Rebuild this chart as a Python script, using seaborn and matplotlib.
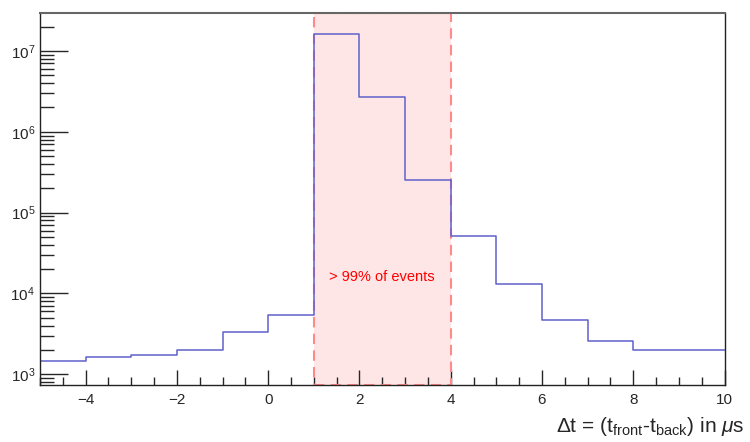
import numpy as np
import pandas as pd
import matplotlib
matplotlib.use("Agg")
import matplotlib.pyplot as plt
import seaborn as sns
from matplotlib.ticker import LogLocator, MultipleLocator, NullFormatter

# Data
bin_edges = [-5, -4, -3, -2, -1, 0, 1, 2, 3, 4, 5, 6, 7, 8, 9, 10]
bin_centers = [-4.5, -3.5, -2.5, -1.5, -0.5, 0.5, 1.5, 2.5, 3.5, 4.5, 5.5, 6.5, 7.5, 8.5, 9.5]
counts = [1480, 1650, 1720, 1980, 3300, 5400, 1.6e7, 2.7e6, 2.5e5, 5.1e4, 1.3e4, 4650, 2550, 2000, 2000]
region = [1, 4]
region_label = "> 99% of events"
x_label = r"$\Delta$t = (t$_{\rm front}$-t$_{\rm back}$) in $\mu$s"

sns.set_style("white")
plt.rcParams['font.family'] = ['Liberation Sans', 'DejaVu Sans']
plt.rcParams['mathtext.fontset'] = 'custom'
plt.rcParams['mathtext.rm'] = 'Liberation Sans'
plt.rcParams['mathtext.it'] = 'Liberation Sans:italic'

df = pd.DataFrame({"dt": bin_centers, "n": counts})

fig = plt.figure(figsize=(7.5, 4.42), dpi=100)
ax = fig.add_axes([0.0533, 0.129, 0.9127, 0.8416])

ax.axvspan(region[0], region[1], facecolor='#ffe6e6', edgecolor='none', zorder=0)
ax.axvspan(region[0], region[1], facecolor='none', edgecolor='#ff8a8a',
           linestyle=(0, (5, 3)), linewidth=1.5, zorder=1)

sns.histplot(data=df, x="dt", weights="n", bins=bin_edges, element="step",
             fill=False, color='#6060cc', linewidth=1.1, ax=ax, zorder=2)

ax.set_yscale('log')
ax.set_xlim(-5, 10)
ax.set_ylim(738, 2.95e7)

ax.text(2.5, 1.6e4, region_label, color='red', fontsize=10.5, ha='center', va='center')

ax.xaxis.set_major_locator(MultipleLocator(2))
ax.xaxis.set_minor_locator(MultipleLocator(0.5))
ax.yaxis.set_major_locator(LogLocator(base=10, numticks=20))
ax.yaxis.set_minor_locator(LogLocator(base=10, subs=np.arange(2, 10), numticks=20))
ax.yaxis.set_minor_formatter(NullFormatter())

ax.tick_params(axis='x', which='major', direction='in', length=11, width=1, labelsize=11, pad=6, bottom=True, top=False)
ax.tick_params(axis='x', which='minor', direction='in', length=6, width=1, bottom=True, top=False)
ax.tick_params(axis='y', which='major', direction='in', length=20, width=1, labelsize=11, left=True, right=False)
ax.tick_params(axis='y', which='minor', direction='in', length=10, width=1, left=True, right=False)

ax.set_xticks([-4, -2, 0, 2, 4, 6, 8, 10])
ax.set_xticklabels(['\u22124', '\u22122', '0', '2', '4', '6', '8', '10'])

for s in ax.spines.values():
    s.set_color('#222222')
    s.set_linewidth(1.0)
    s.set_zorder(3)
ax.spines['top'].set_color('#666666')
ax.spines['top'].set_linewidth(1.5)

ax.set_xlabel("")
ax.set_ylabel("")
fig.text(0.993, 0.035, x_label, ha='right', va='center', fontsize=15)

fig.savefig("out.png", dpi=100)
